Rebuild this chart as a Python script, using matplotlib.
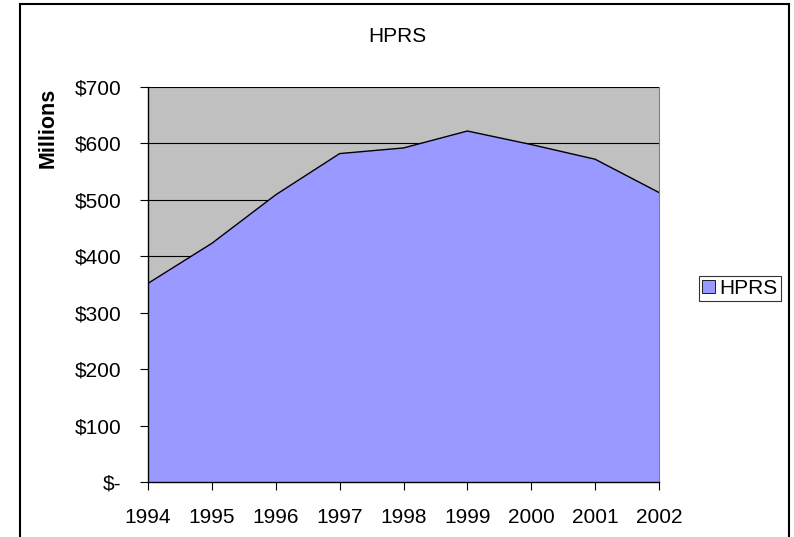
import matplotlib
matplotlib.use("Agg")
import matplotlib.pyplot as plt
from matplotlib.lines import Line2D
from matplotlib.patches import Patch

plt.rcParams['font.family'] = ['Liberation Sans', 'DejaVu Sans']

# data (millions of dollars)
years = ['1994', '1995', '1996', '1997', '1998', '1999', '2000', '2001', '2002']
hprs = [352, 423, 509, 582, 592, 622, 598, 572, 513]
yticks = [0, 100, 200, 300, 400, 500, 600, 700]
ylabels = ['$-', '$100', '$200', '$300', '$400', '$500', '$600', '$700']

W, H = 794, 537
fig = plt.figure(figsize=(W / 100, H / 100), dpi=100)

# outer chart frame (open at the bottom, as in the reference)
for xs, ys in [((20, 20), (0, H - 4)), ((20, 789), (H - 4, H - 4)), ((789, 789), (H - 4, 0))]:
    fig.add_artist(Line2D([x / W for x in xs], [y / H for y in ys], color='black', lw=1.5))

ax = fig.add_axes([148 / W, (H - 482) / H, (659 - 148) / W, (482 - 87) / H])
x = list(range(len(years)))
ax.set_facecolor('#c0c0c0')
ax.fill_between(x, hprs, 0, color='#9999ff', zorder=2)
ax.plot(x, hprs, color='black', lw=1, zorder=3)

ax.set_xlim(0, len(years) - 1)
ax.set_ylim(0, 700)
ax.set_yticks(yticks)
ax.set_yticklabels(ylabels)
ax.set_xticks(x)
ax.set_xticklabels(years)
ax.grid(axis='y', color='black', lw=0.8, zorder=1)
ax.set_axisbelow(True)
ax.tick_params(axis='both', labelsize=15, length=6, width=0.8, direction='out', colors='black')
ax.tick_params(axis='y', pad=13)
ax.tick_params(axis='x', pad=13)

ax.spines['top'].set_visible(False)
ax.spines['right'].set_color('#808080')
ax.spines['left'].set_linewidth(1)
ax.spines['bottom'].set_linewidth(1)
ax.spines['left'].set_zorder(4)
ax.spines['bottom'].set_zorder(4)

fig.text(48 / W, 1 - 128 / H, 'Millions', rotation=90, ha='center', va='center',
         fontsize=15.5, fontweight='bold')
fig.text(397 / W, 1 - 37 / H, 'HPRS', ha='center', va='center', fontsize=15)

leg = fig.legend(handles=[Patch(facecolor='#9999ff', edgecolor='black', lw=0.6, label='HPRS')],
                 loc='center', bbox_to_anchor=(740 / W, 1 - 288.5 / H), fontsize=15,
                 frameon=True, fancybox=False, handlelength=0.6, handleheight=0.6,
                 handletextpad=0.25, borderpad=0.15, borderaxespad=0)
leg.get_frame().set_edgecolor('black')
leg.get_frame().set_linewidth(0.8)

fig.savefig('out.png', dpi=100)
